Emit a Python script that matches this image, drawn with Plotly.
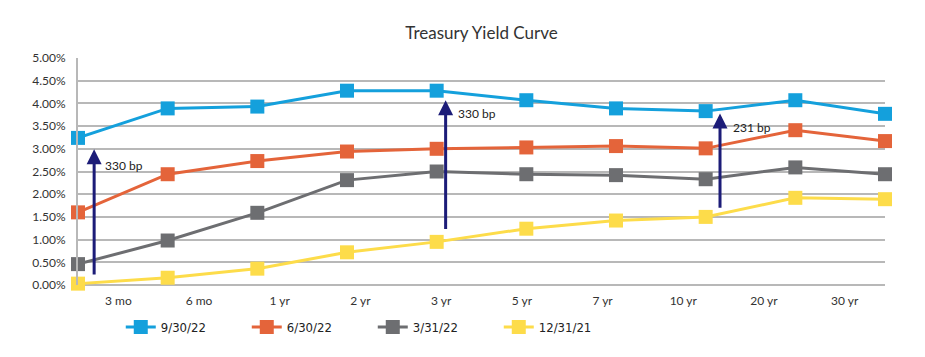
import plotly.graph_objects as go

categories = ["3 mo", "6 mo", "1 yr", "2 yr", "3 yr", "5 yr", "7 yr", "10 yr", "20 yr", "30 yr"]
series_names = ["9/30/22", "6/30/22", "3/31/22", "12/31/21"]
y_sep22 = [3.24, 3.89, 3.93, 4.28, 4.28, 4.07, 3.89, 3.83, 4.07, 3.77]
y_jun22 = [1.60, 2.44, 2.73, 2.94, 3.00, 3.03, 3.06, 3.01, 3.41, 3.17]
y_mar22 = [0.46, 0.98, 1.59, 2.31, 2.50, 2.44, 2.42, 2.33, 2.59, 2.44]
y_dec21 = [0.03, 0.16, 0.36, 0.72, 0.95, 1.24, 1.42, 1.50, 1.92, 1.89]
y_ticks = [0.0, 0.5, 1.0, 1.5, 2.0, 2.5, 3.0, 3.5, 4.0, 4.5, 5.0]

# spread annotations: (x position index, from %, to %, label)
spread_x = [0.18, 4.10, 7.16]
spread_from = [0.20, 1.20, 1.67]
spread_to = [2.99, 4.07, 3.78]
spread_labels = ["330 bp", "330 bp", "231 bp"]

colors = ["#14a0dc", "#e4643a", "#6d6e71", "#fddc4a"]
series = [y_sep22, y_jun22, y_mar22, y_dec21]

n = len(categories)
xs = list(range(n))

fig = go.Figure()
for name, vals, col in zip(series_names, series, colors):
    fig.add_trace(go.Scatter(
        x=xs, y=vals, name=name, mode="lines+markers",
        line=dict(color=col, width=3),
        marker=dict(symbol="square", size=14, color=col),
        cliponaxis=False,
    ))

# draw spread arrows on top of the lines
for sx, s0, s1, lab in zip(spread_x, spread_from, spread_to, spread_labels):
    fig.add_annotation(x=sx, y=s1, ax=sx, ay=s0, xref="x", yref="y",
                       axref="x", ayref="y", text="", showarrow=True,
                       arrowhead=2, arrowsize=1, arrowwidth=3, arrowcolor="#1c1c78")

label_pos = [(0.28, 2.64), (4.215, 3.77), (7.28, 3.48)]
for (lx, ly), lab in zip(label_pos, spread_labels):
    fig.add_annotation(x=lx, y=ly, xref="x", yref="y", text=lab, showarrow=False,
                       xanchor="left", yanchor="middle",
                       font=dict(family="Lato, sans-serif", size=12, color="#222222"))

# category labels sit at the centres of n equal bands across the plot width
tick_pos = [(i + 0.5) * (n - 1) / n for i in range(n)]

fig.update_layout(
    width=925, height=357,
    margin=dict(l=70, r=48, t=50, b=80),
    paper_bgcolor="white", plot_bgcolor="white",
    title=dict(text="Treasury Yield Curve", x=0.5, xref="paper", xanchor="center",
               y=0.93, yref="container", yanchor="middle",
               font=dict(family="Lato, sans-serif", size=17, color="#333333")),
    font=dict(family="Lato, sans-serif", size=12, color="#333333"),
    showlegend=True,
    legend=dict(orientation="h", x=0.053, xanchor="left", y=-0.185, yanchor="middle",
                entrywidth=81, entrywidthmode="pixels",
                font=dict(family="DejaVu Sans Condensed, Liberation Sans Narrow, Liberation Sans, sans-serif",
                          size=13, color="#222222"),
                itemwidth=30, tracegroupgap=0),
    xaxis=dict(range=[0, n - 1], tickmode="array", tickvals=tick_pos, ticktext=categories,
               showgrid=False, zeroline=False, showline=False, ticks="",
               ticklabelstandoff=7,
               tickfont=dict(size=12, color="#333333"), fixedrange=True),
    yaxis=dict(range=[0, 5], tickmode="array", tickvals=y_ticks,
               ticktext=[f"{v:.2f}%" for v in y_ticks],
               showgrid=True, gridcolor="#b8b8b8", gridwidth=2,
               zeroline=True, zerolinecolor="#b8b8b8", zerolinewidth=2,
               showline=True, linecolor="#b8b8b8", linewidth=2,
               ticks="", ticklabelstandoff=8,
               tickfont=dict(size=12, color="#333333"), fixedrange=True),
)

fig.write_html("out.html")
